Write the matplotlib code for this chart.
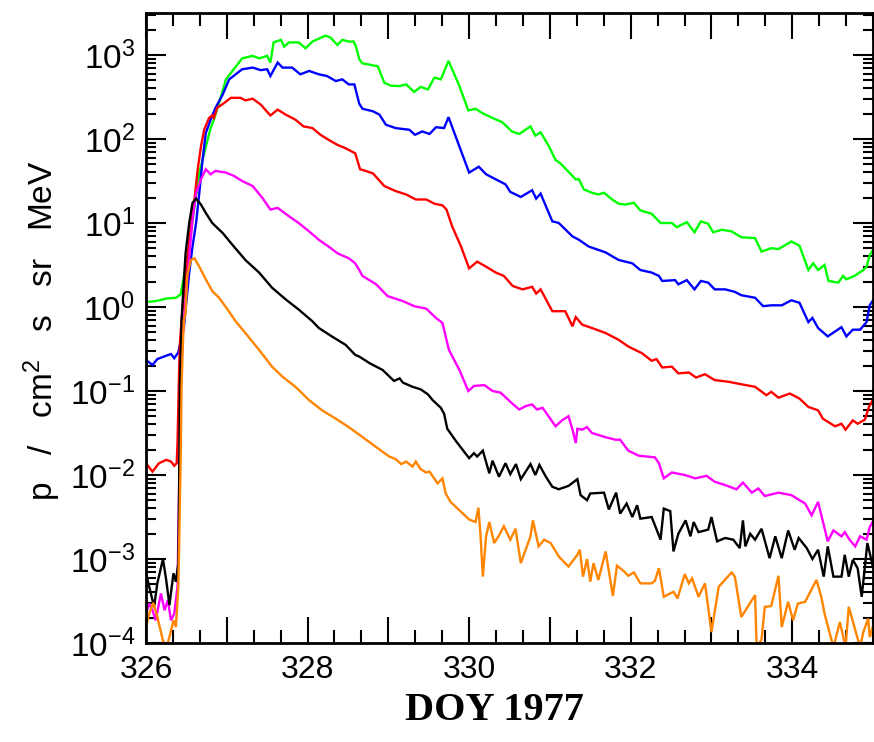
import numpy as np
import matplotlib
matplotlib.use("Agg")
import matplotlib.pyplot as plt
from matplotlib.ticker import MultipleLocator, FuncFormatter, LogLocator, NullFormatter

plt.rcParams['font.family'] = ['Liberation Sans', 'DejaVu Sans']
plt.rcParams['mathtext.fontset'] = 'custom'
plt.rcParams['mathtext.rm'] = 'Liberation Sans'
plt.rcParams['mathtext.default'] = 'regular'

# ---------------- data (day of year, log10 of intensity) ----------------
green_day = [326.00, 326.12, 326.25, 326.37, 326.43, 326.535, 326.60, 326.66, 326.72, 326.80, 326.84, 326.905,
             326.99, 327.07, 327.19, 327.32, 327.40, 327.50, 327.54, 327.58, 327.67, 327.71, 327.77, 327.89,
             327.975, 328.06, 328.22, 328.28, 328.37, 328.43, 328.51, 328.57, 328.60, 328.64, 328.68, 328.77,
             328.87, 328.95, 329.03, 329.14, 329.22, 329.32, 329.40, 329.49, 329.57, 329.65, 329.745, 329.88,
             329.99, 330.08, 330.16, 330.29, 330.41, 330.53, 330.62, 330.76, 330.82, 330.885, 330.99, 331.07,
             331.13, 331.32, 331.36, 331.42, 331.52, 331.60, 331.67, 331.77, 331.85, 331.93, 332.04, 332.12,
             332.26, 332.30, 332.37, 332.51, 332.57, 332.695, 332.79, 332.87, 332.96, 333.02, 333.13, 333.25,
             333.37, 333.54, 333.62, 333.74, 333.83, 333.99, 334.09, 334.20, 334.26, 334.32, 334.40, 334.45,
             334.57, 334.63, 334.67, 334.77, 334.88, 334.92, 334.96, 335.00]
green_log = [0.06, 0.07, 0.10, 0.11, 0.15, 0.72, 1.20, 1.60, 1.83, 2.13, 2.23, 2.43,
             2.71, 2.81, 2.96, 2.99, 2.96, 2.99, 2.91, 3.15, 3.18, 3.10, 3.15, 3.15,
             3.08, 3.16, 3.23, 3.21, 3.12, 3.18, 3.16, 3.16, 3.10, 2.95, 2.90, 2.885,
             2.865, 2.67, 2.635, 2.63, 2.65, 2.56, 2.62, 2.59, 2.73, 2.71, 2.93, 2.63,
             2.34, 2.36, 2.31, 2.25, 2.20, 2.09, 2.06, 2.15, 2.04, 2.08, 1.91, 1.75,
             1.71, 1.52, 1.52, 1.40, 1.36, 1.34, 1.36, 1.28, 1.23, 1.22, 1.24, 1.15,
             1.11, 1.07, 1.00, 1.00, 0.95, 1.01, 0.89, 1.02, 0.99, 0.89, 0.92, 0.90,
             0.83, 0.82, 0.66, 0.70, 0.69, 0.78, 0.73, 0.44, 0.52, 0.44, 0.50, 0.31,
             0.29, 0.37, 0.33, 0.37, 0.44, 0.48, 0.62, 0.68]

blue_day = [326.00, 326.08, 326.14, 326.25, 326.31, 326.35, 326.40, 326.47, 326.535, 326.576, 326.62, 326.66,
            326.70, 326.74, 326.80, 326.86, 326.95, 327.03, 327.11, 327.19, 327.32, 327.42, 327.50, 327.54,
            327.63, 327.69, 327.81, 327.91, 328.02, 328.14, 328.24, 328.35, 328.43, 328.51, 328.58, 328.64,
            328.68, 328.81, 328.89, 328.97, 329.09, 329.26, 329.33, 329.42, 329.51, 329.59, 329.69, 329.745,
            329.88, 330.00, 330.12, 330.21, 330.33, 330.45, 330.51, 330.64, 330.78, 330.83, 330.885, 331.03,
            331.11, 331.28, 331.36, 331.48, 331.69, 331.85, 332.02, 332.12, 332.26, 332.35, 332.39, 332.55,
            332.59, 332.695, 332.79, 332.87, 332.96, 333.04, 333.17, 333.29, 333.37, 333.54, 333.64, 333.74,
            333.87, 333.99, 334.09, 334.20, 334.25, 334.32, 334.44, 334.61, 334.67, 334.75, 334.84, 334.92,
            334.96, 335.00]
blue_log = [-0.63, -0.69, -0.62, -0.58, -0.56, -0.61, -0.54, -0.23, 0.41, 0.72, 1.00, 1.36,
            1.75, 2.07, 2.23, 2.37, 2.53, 2.71, 2.77, 2.83, 2.85, 2.82, 2.83, 2.75,
            2.91, 2.85, 2.85, 2.77, 2.81, 2.77, 2.75, 2.69, 2.71, 2.65, 2.65, 2.42,
            2.36, 2.33, 2.29, 2.17, 2.13, 2.11, 2.05, 2.09, 2.06, 2.14, 2.13, 2.26,
            1.91, 1.60, 1.67, 1.58, 1.52, 1.46, 1.37, 1.31, 1.39, 1.29, 1.35, 1.02,
            1.00, 0.84, 0.80, 0.72, 0.65, 0.56, 0.52, 0.44, 0.41, 0.37, 0.31, 0.32,
            0.27, 0.32, 0.21, 0.31, 0.29, 0.21, 0.21, 0.18, 0.14, 0.11, 0.01, 0.02,
            0.02, 0.08, 0.05, -0.18, -0.13, -0.25, -0.35, -0.24, -0.35, -0.27, -0.27, -0.18,
            0.02, 0.08]

red_day = [326.00, 326.08, 326.16, 326.25, 326.31, 326.35, 326.38, 326.39, 326.40, 326.41, 326.42, 326.44,
           326.535, 326.60, 326.64, 326.68, 326.72, 326.78, 326.82, 326.84, 326.88, 326.97, 327.05, 327.17,
           327.23, 327.32, 327.42, 327.54, 327.63, 327.73, 327.85, 327.95, 328.06, 328.16, 328.26, 328.37,
           328.47, 328.59, 328.65, 328.72, 328.81, 328.95, 329.09, 329.22, 329.34, 329.47, 329.57, 329.67,
           329.72, 329.79, 329.90, 330.00, 330.10, 330.21, 330.33, 330.43, 330.54, 330.66, 330.78, 330.83,
           330.885, 331.03, 331.19, 331.28, 331.32, 331.40, 331.52, 331.69, 331.85, 331.97, 332.14, 332.26,
           332.32, 332.39, 332.51, 332.59, 332.72, 332.81, 332.92, 333.04, 333.21, 333.37, 333.54, 333.68,
           333.74, 333.83, 333.97, 334.09, 334.20, 334.32, 334.38, 334.53, 334.61, 334.66, 334.75, 334.81,
           334.90, 334.95, 335.00]
red_log = [-1.86, -1.96, -1.86, -1.82, -1.84, -1.89, -1.86, -1.62, -1.19, -0.75, -0.43, -0.16,
           0.80, 1.28, 1.64, 1.91, 2.11, 2.25, 2.28, 2.25, 2.37, 2.43, 2.49, 2.49,
           2.46, 2.48, 2.41, 2.28, 2.35, 2.29, 2.23, 2.15, 2.13, 2.05, 1.99, 1.93,
           1.89, 1.83, 1.64, 1.62, 1.59, 1.44, 1.38, 1.34, 1.28, 1.28, 1.23, 1.21,
           1.16, 0.96, 0.72, 0.46, 0.54, 0.48, 0.41, 0.37, 0.25, 0.21, 0.24, 0.16,
           0.21, -0.05, -0.05, -0.23, -0.12, -0.21, -0.25, -0.31, -0.39, -0.47, -0.55, -0.64,
           -0.62, -0.72, -0.71, -0.79, -0.78, -0.84, -0.80, -0.87, -0.89, -0.92, -0.95, -1.05,
           -1.01, -1.08, -1.03, -1.09, -1.19, -1.23, -1.33, -1.42, -1.39, -1.46, -1.35, -1.39,
           -1.34, -1.19, -1.10]

magenta_day = [326.00, 326.04, 326.08, 326.12, 326.185, 326.23, 326.27, 326.31, 326.35, 326.39, 326.41, 326.43,
               326.45, 326.51, 326.576, 326.62, 326.68, 326.74, 326.80, 326.86, 326.99, 327.09, 327.19, 327.32,
               327.44, 327.54, 327.63, 327.77, 327.89, 328.02, 328.14, 328.26, 328.37, 328.51, 328.59, 328.64,
               328.68, 328.85, 328.99, 329.18, 329.32, 329.47, 329.59, 329.67, 329.70, 329.75, 329.88, 329.99,
               330.06, 330.19, 330.29, 330.39, 330.535, 330.62, 330.70, 330.78, 330.84, 330.91, 330.99, 331.07,
               331.15, 331.23, 331.28, 331.32, 331.34, 331.40, 331.46, 331.52, 331.69, 331.81, 331.87, 331.97,
               332.10, 332.30, 332.35, 332.41, 332.51, 332.67, 332.80, 332.94, 333.04, 333.17, 333.31, 333.39,
               333.50, 333.58, 333.66, 333.83, 333.99, 334.16, 334.24, 334.32, 334.44, 334.51, 334.61, 334.65,
               334.71, 334.78, 334.84, 334.92, 334.96, 335.00]
magenta_log = [-3.65, -3.53, -3.61, -3.73, -3.41, -3.61, -3.49, -3.73, -3.65, -3.33, -2.14, -0.95,
               -0.40, 0.33, 1.04, 1.36, 1.52, 1.64, 1.58, 1.62, 1.60, 1.56, 1.50, 1.44,
               1.30, 1.16, 1.18, 1.08, 1.00, 0.90, 0.80, 0.72, 0.64, 0.58, 0.52, 0.44,
               0.37, 0.27, 0.13, 0.07, 0.01, -0.02, -0.13, -0.19, -0.31, -0.51, -0.75, -1.00,
               -0.94, -0.93, -1.00, -1.02, -1.15, -1.22, -1.18, -1.16, -1.22, -1.20, -1.31, -1.42,
               -1.35, -1.30, -1.46, -1.62, -1.45, -1.46, -1.43, -1.50, -1.55, -1.58, -1.58, -1.71,
               -1.77, -1.79, -1.86, -2.04, -1.97, -2.00, -2.04, -2.01, -2.08, -2.12, -2.17, -2.09,
               -2.21, -2.16, -2.25, -2.21, -2.24, -2.34, -2.48, -2.32, -2.79, -2.66, -2.73, -2.68,
               -2.77, -2.85, -2.73, -2.77, -2.62, -2.55]

black_day = [326.00, 326.04, 326.10, 326.14, 326.21, 326.25, 326.29, 326.34, 326.37, 326.40, 326.41, 326.42,
             326.44, 326.45, 326.49, 326.535, 326.576, 326.62, 326.68, 326.74, 326.82, 326.95, 327.07, 327.23,
             327.40, 327.56, 327.73, 327.89, 328.06, 328.14, 328.30, 328.47, 328.59, 328.64, 328.77, 328.93,
             329.07, 329.14, 329.18, 329.30, 329.40, 329.49, 329.55, 329.65, 329.69, 329.73, 329.84, 330.00,
             330.06, 330.10, 330.17, 330.25, 330.29, 330.37, 330.45, 330.51, 330.58, 330.64, 330.76, 330.82,
             330.87, 330.95, 331.03, 331.11, 331.23, 331.34, 331.38, 331.46, 331.50, 331.67, 331.73, 331.82,
             331.87, 331.95, 332.02, 332.08, 332.12, 332.26, 332.37, 332.41, 332.49, 332.53, 332.59, 332.68,
             332.74, 332.78, 332.84, 332.96, 333.00, 333.07, 333.17, 333.27, 333.35, 333.39, 333.42, 333.48,
             333.54, 333.62, 333.72, 333.79, 333.87, 333.95, 334.03, 334.08, 334.18, 334.25, 334.32, 334.39,
             334.44, 334.51, 334.61, 334.65, 334.70, 334.75, 334.81, 334.86, 334.90, 334.93, 334.96, 335.00]
black_log = [-3.17, -3.33, -3.57, -3.29, -3.00, -3.25, -3.55, -3.17, -3.27, -3.05, -2.14, -0.95,
             -0.16, 0.01, 0.64, 1.00, 1.24, 1.29, 1.22, 1.12, 1.00, 0.88, 0.74, 0.56,
             0.41, 0.23, 0.09, -0.03, -0.17, -0.25, -0.35, -0.45, -0.57, -0.59, -0.67, -0.75,
             -0.88, -0.85, -0.90, -0.95, -0.98, -1.04, -1.11, -1.20, -1.27, -1.45, -1.60, -1.80,
             -1.74, -1.78, -1.71, -1.98, -1.83, -2.02, -1.86, -1.99, -1.87, -2.05, -1.87, -2.00,
             -1.88, -2.02, -2.14, -2.17, -2.13, -2.05, -2.24, -2.30, -2.22, -2.21, -2.41, -2.21,
             -2.46, -2.34, -2.50, -2.36, -2.52, -2.50, -2.77, -2.40, -2.43, -2.91, -2.70, -2.54,
             -2.73, -2.56, -2.68, -2.65, -2.50, -2.79, -2.75, -2.77, -2.87, -2.54, -2.85, -2.70,
             -2.77, -2.64, -2.99, -2.73, -2.99, -2.66, -2.89, -2.75, -2.87, -3.00, -2.89, -3.21,
             -2.85, -3.21, -3.21, -2.95, -3.21, -3.01, -3.11, -3.45, -3.09, -2.81, -2.93, -3.10]

orange_day = [326.00, 326.04, 326.09, 326.14, 326.21, 326.255, 326.30, 326.34, 326.37, 326.40, 326.41, 326.43,
              326.44, 326.46, 326.47, 326.49, 326.51, 326.555, 326.60, 326.66, 326.74, 326.82, 326.905, 327.01,
              327.11, 327.23, 327.40, 327.56, 327.69, 327.85, 328.02, 328.18, 328.35, 328.51, 328.64, 328.81,
              329.01, 329.09, 329.16, 329.22, 329.30, 329.34, 329.40, 329.465, 329.51, 329.61, 329.67, 329.71,
              329.77, 329.88, 330.00, 330.08, 330.115, 330.14, 330.17, 330.21, 330.25, 330.31, 330.37, 330.43,
              330.51, 330.575, 330.64, 330.70, 330.76, 330.79, 330.86, 330.93, 331.01, 331.11, 331.23, 331.34,
              331.37, 331.41, 331.46, 331.50, 331.54, 331.60, 331.69, 331.78, 331.83, 331.91, 331.97, 332.04,
              332.12, 332.26, 332.30, 332.35, 332.41, 332.53, 332.58, 332.67, 332.72, 332.76, 332.84, 332.92,
              333.00, 333.09, 333.25, 333.29, 333.37, 333.54, 333.56, 333.62, 333.66, 333.74, 333.83, 333.87,
              333.95, 334.01, 334.07, 334.16, 334.30, 334.36, 334.40, 334.51, 334.59, 334.66, 334.70, 334.77,
              334.84, 334.88, 334.94, 334.96, 335.00]
orange_log = [-3.81, -3.65, -3.52, -3.69, -3.97, -4.05, -3.89, -3.73, -3.81, -3.33, -2.85, -1.74,
              -0.95, -0.35, -0.16, -0.07, 0.37, 0.56, 0.58, 0.48, 0.33, 0.19, 0.11, -0.03,
              -0.17, -0.31, -0.51, -0.71, -0.83, -0.95, -1.11, -1.23, -1.33, -1.43, -1.52, -1.64,
              -1.78, -1.81, -1.87, -1.84, -1.90, -1.84, -1.93, -1.97, -1.96, -2.10, -2.04, -2.22,
              -2.32, -2.42, -2.53, -2.56, -2.39, -2.70, -3.21, -2.73, -2.56, -2.81, -2.72, -2.61,
              -2.77, -2.64, -3.05, -2.89, -2.73, -2.54, -2.85, -2.77, -2.81, -2.97, -3.09, -2.95,
              -2.89, -3.21, -3.00, -3.27, -3.05, -3.25, -2.91, -3.44, -3.08, -3.14, -3.20, -3.16,
              -3.29, -3.29, -3.26, -3.11, -3.45, -3.39, -3.47, -3.18, -3.29, -3.23, -3.45, -3.29,
              -3.87, -3.33, -3.16, -3.21, -3.69, -3.43, -4.05, -3.96, -3.57, -3.56, -3.20, -3.81,
              -3.51, -3.73, -3.53, -3.51, -3.25, -3.45, -3.65, -4.05, -3.75, -4.05, -3.57, -3.81,
              -4.05, -3.87, -3.71, -3.93, -3.80]

series = [
    (green_day, green_log, '#00ff00'),
    (blue_day, blue_log, '#0000ff'),
    (red_day, red_log, '#ff0000'),
    (magenta_day, magenta_log, '#ff00ff'),
    (black_day, black_log, '#000000'),
    (orange_day, orange_log, '#ff8400'),
]

x_label_ticks = [326, 328, 330, 332, 334]

# ---------------- figure ----------------
fig = plt.figure(figsize=(8.74, 7.42), dpi=100)
ax = fig.add_axes([146 / 874, 1 - 643 / 742, 727 / 874, 630 / 742])

for d, lg, c in series:
    ax.plot(d, 10.0 ** np.array(lg), color=c, lw=1.7, solid_joinstyle='miter')

ax.set_yscale('log')
ax.set_xlim(326, 335)
ax.set_ylim(1e-4, 10 ** 3.5)

ax.xaxis.set_major_locator(MultipleLocator(1))
ax.xaxis.set_minor_locator(MultipleLocator(1 / 3))
ax.xaxis.set_major_formatter(FuncFormatter(
    lambda v, p: ('%d' % round(v)) if round(v) in x_label_ticks and abs(v - round(v)) < 1e-6 else ''))
ax.xaxis.set_minor_formatter(NullFormatter())
ax.yaxis.set_major_locator(LogLocator(base=10, numticks=20))
ax.yaxis.set_minor_locator(LogLocator(base=10, subs=np.arange(2, 10), numticks=20))
ax.yaxis.set_major_formatter(FuncFormatter(lambda v, p: r'$10^{%d}$' % round(np.log10(v))))
ax.yaxis.set_minor_formatter(NullFormatter())

ax.tick_params(axis='x', which='major', direction='in', length=19, width=1.5, top=True,
               labelsize=23, pad=9)
ax.tick_params(axis='x', which='minor', direction='in', length=9.5, width=1.5, top=True)
ax.tick_params(axis='y', which='major', direction='in', length=14.5, width=1.5, right=True,
               labelsize=24, pad=8)
ax.tick_params(axis='y', which='minor', direction='in', length=7.5, width=1.5, right=True)
for s in ax.spines.values():
    s.set_linewidth(2.0)

fig.text(42 / 874, 1 - 331 / 742, 'p   /   cm$^2$   s   sr   MeV', rotation=90,
         ha='center', va='center', fontsize=24)
fig.text(494 / 874, 1 - 711 / 742, 'DOY 1977', ha='center', va='center', fontsize=29,
         fontweight='bold', family=['Liberation Serif', 'DejaVu Serif'])

fig.savefig('out.png', dpi=100)
